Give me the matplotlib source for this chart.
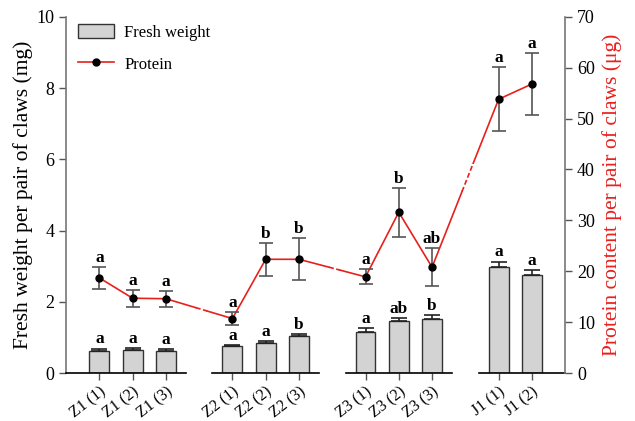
import matplotlib.pyplot as plt
import numpy as np
from matplotlib.patches import Patch
from matplotlib.lines import Line2D

plt.rcParams['font.family'] = ['Liberation Serif', 'DejaVu Serif']

# Samples and their x positions (gaps separate the stage groups)
samples = ['Z1 (1)', 'Z1 (2)', 'Z1 (3)', 'Z2 (1)', 'Z2 (2)', 'Z2 (3)',
           'Z3 (1)', 'Z3 (2)', 'Z3 (3)', 'J1 (1)', 'J1 (2)']
positions = [1, 2, 3, 5, 6, 7, 9, 10, 11, 13, 14]
groups = [[0, 1, 2], [3, 4, 5], [6, 7, 8], [9, 10]]

# Fresh weight (mg)
weight = [0.63, 0.65, 0.63, 0.75, 0.85, 1.04, 1.15, 1.45, 1.52, 2.97, 2.75]
weight_err = [0.05, 0.04, 0.03, 0.03, 0.05, 0.05, 0.10, 0.09, 0.10, 0.15, 0.14]
weight_sig = ['a', 'a', 'a', 'a', 'a', 'b', 'a', 'ab', 'b', 'a', 'a']

# Protein content (ug)
protein = [18.7, 14.7, 14.6, 10.7, 22.35, 22.35, 18.9, 31.6, 20.8, 53.8, 56.8]
protein_err = [2.2, 1.65, 1.55, 1.3, 3.2, 4.1, 1.5, 4.8, 3.7, 6.3, 6.1]
protein_sig = ['a', 'a', 'a', 'a', 'b', 'b', 'a', 'b', 'ab', 'a', 'a']

RED = '#e8201c'

fig = plt.figure(figsize=(6.35, 4.21), dpi=100)
ax = fig.add_axes([0.104, 0.114, 0.786, 0.846])
ax2 = ax.twinx()

# Bars on the left axis
ax.bar(positions, weight, width=0.6, color='#d3d3d3', edgecolor='#333333',
       linewidth=1.0, zorder=2)
ax.errorbar(positions, weight, yerr=[np.zeros(len(weight)), weight_err],
            fmt='none', ecolor='#222222', elinewidth=1.2, capsize=6,
            capthick=1.2, zorder=3)
for x, h, e, s in zip(positions, weight, weight_err, weight_sig):
    ax.text(x, h + e + 0.04, s, ha='center', va='bottom', fontsize=12.5,
            fontweight='bold')

ax.set_xlim(0, 15)
ax.set_ylim(0, 10)
ax.set_yticks(np.arange(0, 11, 2))
ax.set_ylabel('Fresh weight per pair of claws (mg)', fontsize=15.5,
              labelpad=2)

# Protein line on the right axis: solid within groups, broken between groups
for g in groups:
    ax2.plot([positions[i] for i in g], [protein[i] for i in g],
             color=RED, linewidth=1.2, zorder=3)
for a, b in zip(groups[:-1], groups[1:]):
    i, j = a[-1], b[0]
    xs = np.array([positions[i], positions[j]], dtype=float)
    ys = np.array([protein[i], protein[j]])
    m1 = xs[0] + 0.45 * (xs[1] - xs[0]), ys[0] + 0.45 * (ys[1] - ys[0])
    m2 = xs[0] + 0.62 * (xs[1] - xs[0]), ys[0] + 0.62 * (ys[1] - ys[0])
    ax2.plot([xs[0], m1[0]], [ys[0], m1[1]], color=RED, linewidth=1.2)
    ax2.plot([m1[0], m2[0]], [m1[1], m2[1]], color=RED, linewidth=1.2,
             dashes=(3, 1.5))
    ax2.plot([m2[0], xs[1]], [m2[1], ys[1]], color=RED, linewidth=1.2)

ax2.errorbar(positions, protein, yerr=protein_err, fmt='none', ecolor='#555555',
             elinewidth=1.2, capsize=5, capthick=1.2, zorder=4)
ax2.plot(positions, protein, 'o', color='black', markersize=5, zorder=5)
for x, p, e, s in zip(positions, protein, protein_err, protein_sig):
    ax2.text(x, p + e + 0.2, s, ha='center', va='bottom', fontsize=12.5,
             fontweight='bold')

ax2.set_ylim(0, 70)
ax2.set_yticks(np.arange(0, 71, 10))
ax2.set_ylabel('Protein content per pair of claws (\u03bcg)', fontsize=15.5,
               color=RED, labelpad=5)

# Broken x-axis drawn as one segment per group
for a in (ax, ax2):
    a.spines['top'].set_visible(False)
    a.spines['bottom'].set_visible(False)
ax.spines['right'].set_visible(False)
ax2.spines['left'].set_visible(False)
ax.spines['left'].set_color('#777777')
ax2.spines['right'].set_color('#777777')
ax.spines['left'].set_linewidth(1.2)
ax2.spines['right'].set_linewidth(1.2)
for x0, x1 in [(0, 3.6), (4.4, 7.6), (8.4, 11.6), (12.4, 15)]:
    ax.plot([x0, x1], [0, 0], color='black', linewidth=1.2, clip_on=False,
            zorder=6)

ax.set_xticks(positions)
ax.set_xticklabels(samples, rotation=38, ha='right', rotation_mode='anchor',
                   fontsize=11.5)
ax.tick_params(axis='x', direction='out', length=5, width=1, color='#555555',
               pad=3)
ax.tick_params(axis='y', direction='out', length=5, width=1, color='#555555',
               labelsize=13)
ax2.tick_params(axis='y', direction='out', length=5, width=1, color='#555555',
                labelsize=13)

handles = [Patch(facecolor='#d3d3d3', edgecolor='#333333', linewidth=1.0),
           Line2D([0], [0], color=RED, linewidth=1.2, marker='o',
                  markerfacecolor='black', markeredgecolor='black',
                  markersize=5)]
ax.legend(handles, ['Fresh weight', 'Protein'], loc='upper left',
          frameon=False, fontsize=12, handlelength=2.2, handleheight=1.0,
          handletextpad=0.6, borderaxespad=0.0, labelspacing=0.9,
          bbox_to_anchor=(0.01, 1.0))

fig.savefig('out.png', dpi=100)
